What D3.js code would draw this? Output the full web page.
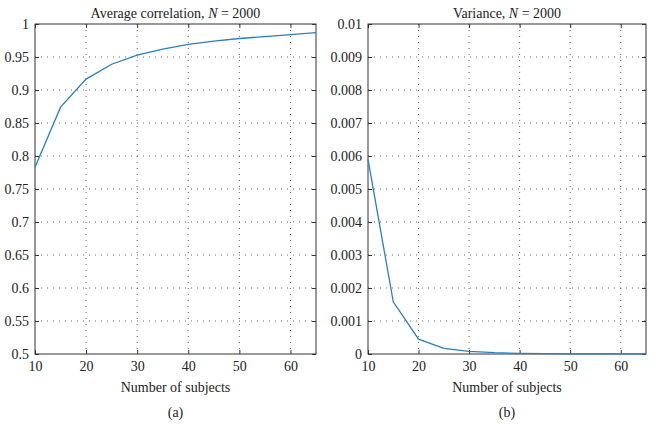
<!DOCTYPE html>
<html><head><meta charset="utf-8">
<script src="https://cdn.jsdelivr.net/npm/d3@7"></script>
<style>body{margin:0;background:#fff}svg{display:block}</style>
</head><body><svg id="c" width="656" height="424"></svg>
<script>
const subjects = [10,15,20,25,30,35,40,45,50,55,60,65];
const avgCorrelation = [0.783,0.874,0.9165,0.939,0.953,0.962,0.969,0.974,0.978,0.981,0.984,0.987];
const variance = [0.0059,0.00158,0.00045,0.00017,0.00008,0.00004,0.00002,0.00001,0.000006,0.000004,0.000003,0.000002];
const xTicks = [10,20,30,40,50,60];
const yTicksA = [0.5,0.55,0.6,0.65,0.7,0.75,0.8,0.85,0.9,0.95,1];
const yTicksB = [0,0.001,0.002,0.003,0.004,0.005,0.006,0.007,0.008,0.009,0.01];
const FONT = "Liberation Serif, Times New Roman, DejaVu Serif, serif";
const panels = [
  {title:["Average correlation, ","N"," = 2000"], label:"(a)", values:avgCorrelation, yDomain:[0.5,1], yTicks:yTicksA, fmt:d=>String(+d.toFixed(2)), left:35, right:316},
  {title:["Variance, ","N"," = 2000"], label:"(b)", values:variance, yDomain:[0,0.01], yTicks:yTicksB, fmt:d=>String(+d.toFixed(3)), left:368, right:646}
];
const svg = d3.select("#c");
const plotTop=24, plotBottom=354;
panels.forEach(p=>{
  const x = d3.scaleLinear().domain([10,65]).range([p.left,p.right]);
  const y = d3.scaleLinear().domain(p.yDomain).range([plotBottom,plotTop]);
  const g = svg.append("g");
  g.selectAll(".gx").data(xTicks.slice(1)).join("line")
    .attr("x1",d=>x(d)).attr("x2",d=>x(d)).attr("y1",plotTop).attr("y2",plotBottom)
    .attr("stroke","#444").attr("stroke-width",0.8).attr("stroke-dasharray","1,5");
  g.selectAll(".gy").data(p.yTicks.slice(1,-1)).join("line")
    .attr("y1",d=>y(d)).attr("y2",d=>y(d)).attr("x1",p.left).attr("x2",p.right)
    .attr("stroke","#444").attr("stroke-width",0.8).attr("stroke-dasharray","1,5");
  const ax = g.append("g").attr("transform",`translate(0,${plotBottom})`)
    .call(d3.axisBottom(x).tickValues(xTicks).tickSize(-4).tickPadding(7));
  const axT = g.append("g").attr("transform",`translate(0,${plotTop})`)
    .call(d3.axisTop(x).tickValues(xTicks).tickSize(-4).tickFormat(""));
  const ay = g.append("g").attr("transform",`translate(${p.left},0)`)
    .call(d3.axisLeft(y).tickValues(p.yTicks).tickSize(-4).tickPadding(6).tickFormat(p.fmt));
  const ayR = g.append("g").attr("transform",`translate(${p.right},0)`)
    .call(d3.axisRight(y).tickValues(p.yTicks).tickSize(-4).tickFormat(""));
  [ax,axT,ay,ayR].forEach(a=>{
    a.attr("font-family",FONT).attr("font-size",14);
    a.selectAll(".domain").remove();
    a.selectAll("line").attr("stroke","#333");
    a.selectAll("text").attr("font-family",FONT).attr("font-size",14).attr("fill","#222");
  });
  g.append("rect").attr("x",p.left).attr("y",plotTop).attr("width",p.right-p.left).attr("height",plotBottom-plotTop)
    .attr("fill","none").attr("stroke","#333").attr("stroke-width",1);
  const line = d3.line().x((d,i)=>x(subjects[i])).y(d=>y(d));
  g.append("path").datum(p.values).attr("d",line).attr("fill","none")
    .attr("stroke","#2b7fbd").attr("stroke-width",1.3);
  const cx=(p.left+p.right)/2;
  const t = g.append("text").attr("x",cx).attr("y",18).attr("text-anchor","middle")
    .attr("font-family",FONT).attr("font-size",14).attr("fill","#222");
  t.append("tspan").text(p.title[0]);
  t.append("tspan").attr("font-style","italic").text(p.title[1]);
  t.append("tspan").text(p.title[2]);
  g.append("text").attr("x",cx).attr("y",392).attr("text-anchor","middle")
    .attr("font-family",FONT).attr("font-size",14).attr("fill","#222").text("Number of subjects");
  g.append("text").attr("x",cx).attr("y",417).attr("text-anchor","middle")
    .attr("font-family",FONT).attr("font-size",14).attr("fill","#222").text(p.label);
});
</script></body></html>
